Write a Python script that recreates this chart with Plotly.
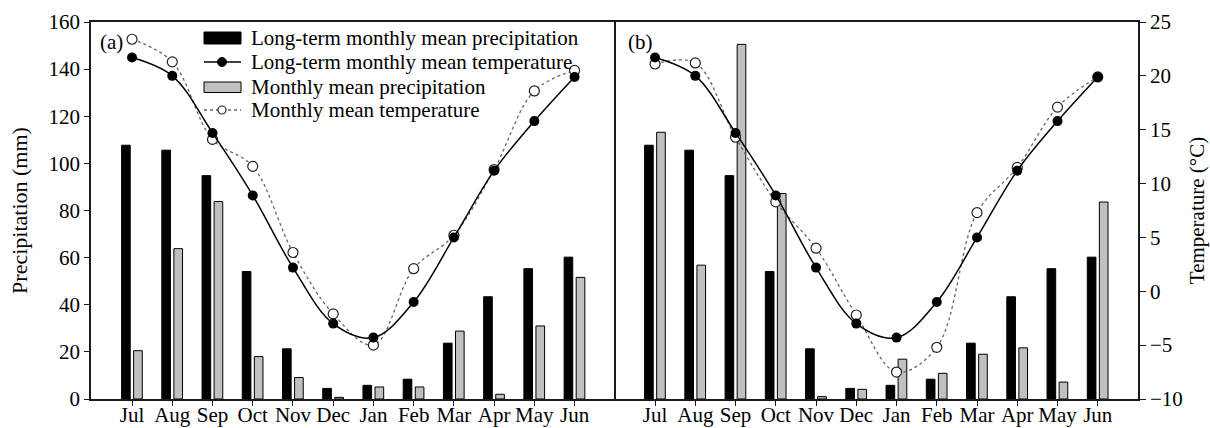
import plotly.graph_objects as go

# Month order of the hydrological year
months = ["Jul", "Aug", "Sep", "Oct", "Nov", "Dec", "Jan", "Feb", "Mar", "Apr", "May", "Jun"]

# Long-term monthly means (shared by both panels)
lt_precip = [107.7, 105.6, 94.8, 54.1, 21.3, 4.5, 5.8, 8.4, 23.7, 43.4, 55.3, 60.2]
lt_temp = [21.7, 20.0, 14.7, 8.9, 2.2, -3.0, -4.3, -1.0, 5.0, 11.2, 15.8, 19.9]

# Panel (a): monthly means of the first season
precip_a = [20.5, 63.8, 83.8, 18.0, 9.1, 0.7, 5.1, 5.1, 28.8, 2.0, 31.0, 51.6]
temp_a = [23.4, 21.3, 14.1, 11.6, 3.6, -2.1, -5.0, 2.1, 5.2, 11.3, 18.6, 20.5]

# Panel (b): monthly means of the second season
precip_b = [113.2, 56.8, 150.5, 87.2, 1.0, 4.1, 16.9, 10.9, 19.0, 21.7, 7.2, 83.6]
temp_b = [21.1, 21.2, 14.3, 8.3, 4.0, -2.2, -7.5, -5.2, 7.3, 11.5, 17.1, 19.9]

legend_labels = [
    "Long-term monthly mean precipitation",
    "Long-term monthly mean temperature",
    "Monthly mean precipitation",
    "Monthly mean temperature",
]
panel_labels = ["(a)", "(b)"]

FONT = "Liberation Serif"
W, H = 1210, 428
ML, MR, MT, MB = 91, 72, 22, 29
PW = W - ML - MR
PH = H - MT - MB
SPLIT = (614 - ML) / PW
GRAY = "#c0c0c0"
AXC = "#1a1a1a"
DOTC = "#666666"

idx = list(range(len(months)))


def px_x(p):
    return (p - ML) / PW


def px_y(p):
    return (H - MB - p) / PH


fig = go.Figure()

panels = [
    ("x", "y", "y2", precip_a, temp_a),
    ("x2", "y3", "y4", precip_b, temp_b),
]

for xa, yp, yt, pr, tm in panels:
    fig.add_trace(go.Bar(
        x=idx, y=lt_precip, xaxis=xa, yaxis=yp, offset=-0.26, width=0.215,
        marker=dict(color="black", line=dict(color="black", width=1)),
        showlegend=False,
    ))
    fig.add_trace(go.Bar(
        x=idx, y=pr, xaxis=xa, yaxis=yp, offset=0.04, width=0.215,
        marker=dict(color=GRAY, line=dict(color="black", width=1)),
        showlegend=False,
    ))
    fig.add_trace(go.Scatter(
        x=idx, y=tm, xaxis=xa, yaxis=yt, mode="lines+markers",
        line=dict(color=DOTC, width=1.3, dash="dot", shape="spline", smoothing=1.0),
        marker=dict(symbol="circle", size=10, color="white", line=dict(color="#222222", width=1.2)),
        showlegend=False,
    ))
    fig.add_trace(go.Scatter(
        x=idx, y=lt_temp, xaxis=xa, yaxis=yt, mode="lines+markers",
        line=dict(color="black", width=1.5, shape="spline", smoothing=1.0),
        marker=dict(symbol="circle", size=10, color="black"),
        showlegend=False,
    ))

xcommon = dict(
    tickmode="array", tickvals=idx, ticktext=months, ticks="outside", ticklen=5,
    tickcolor=AXC, tickwidth=1.3, showline=True, linecolor=AXC, linewidth=1.5,
    mirror=True, showgrid=False, zeroline=False, automargin=False,
    ticklabelstandoff=-9,
    tickfont=dict(family=FONT, size=21, color="black"),
)

fig.update_layout(
    width=W, height=H,
    margin=dict(l=ML, r=MR, t=MT, b=MB),
    paper_bgcolor="white", plot_bgcolor="white",
    font=dict(family=FONT, size=21, color="black"),
    barmode="overlay",
    showlegend=False,
    xaxis=dict(domain=[0, SPLIT], range=[-1.02, 11.98], anchor="y", **xcommon),
    xaxis2=dict(domain=[SPLIT, 1], range=[-1.02, 12.0], anchor="y3", **xcommon),
    yaxis=dict(
        domain=[0, 1], anchor="x", range=[0, 160], dtick=20, ticks="outside", ticklen=5,
        tickcolor=AXC, tickwidth=1.3, showline=True, linecolor=AXC, linewidth=1.5,
        mirror=True, showgrid=False, zeroline=False, automargin=False,
        tickfont=dict(family=FONT, size=21, color="black"),
        title=dict(text="Precipitation (mm)", font=dict(family=FONT, size=22, color="black"),
                   standoff=15),
    ),
    yaxis2=dict(overlaying="y", anchor="x", range=[-10, 25], visible=False),
    yaxis3=dict(domain=[0, 1], anchor="x2", range=[0, 160], visible=False),
    yaxis4=dict(
        overlaying="y3", anchor="x2", side="right", range=[-10, 25], dtick=5,
        ticks="outside", ticklen=6, tickcolor=AXC, tickwidth=1.3, automargin=False,
        showline=True, linecolor=AXC, linewidth=1.5, showgrid=False, zeroline=False,
        tickfont=dict(family=FONT, size=21, color="black"),
        title=dict(text="Temperature (°C)", font=dict(family=FONT, size=21, color="black"),
                   standoff=8),
    ),
)

# Panel tags
for label, px in zip(panel_labels, [98, 626]):
    fig.add_annotation(
        x=px_x(px), y=px_y(42), xref="paper", yref="paper", text=label,
        showarrow=False, xanchor="left", yanchor="middle",
        font=dict(family=FONT, size=21, color="black"),
    )

# Hand-drawn legend inside panel (a)
rows = [38, 62, 87, 110]
sx0, sx1, sxc = 204, 241, 222
fig.add_shape(type="rect", xref="paper", yref="paper",
              x0=px_x(sx0), x1=px_x(sx1), y0=px_y(44), y1=px_y(32),
              fillcolor="black", line=dict(color="black", width=1))
fig.add_shape(type="line", xref="paper", yref="paper",
              x0=px_x(sx0), x1=px_x(sx1), y0=px_y(rows[1]), y1=px_y(rows[1]),
              line=dict(color="black", width=1.5))
fig.add_shape(type="circle", xref="paper", yref="paper",
              x0=px_x(sxc - 4.5), x1=px_x(sxc + 4.5), y0=px_y(rows[1] + 4.5), y1=px_y(rows[1] - 4.5),
              fillcolor="black", line=dict(color="black", width=1))
fig.add_shape(type="rect", xref="paper", yref="paper",
              x0=px_x(sx0), x1=px_x(sx1), y0=px_y(92.5), y1=px_y(82),
              fillcolor=GRAY, line=dict(color="black", width=1))
fig.add_shape(type="line", xref="paper", yref="paper",
              x0=px_x(sx0), x1=px_x(sx1), y0=px_y(rows[3]), y1=px_y(rows[3]),
              line=dict(color=DOTC, width=1.3, dash="dot"))
fig.add_shape(type="circle", xref="paper", yref="paper",
              x0=px_x(sxc - 4), x1=px_x(sxc + 4), y0=px_y(rows[3] + 4), y1=px_y(rows[3] - 4),
              fillcolor="white", line=dict(color="#222222", width=1.2))
for label, ry in zip(legend_labels, rows):
    fig.add_annotation(
        x=px_x(249), y=px_y(ry), xref="paper", yref="paper", text=label,
        showarrow=False, xanchor="left", yanchor="middle",
        font=dict(family=FONT, size=21, color="black"),
    )

fig.write_html("out.html")
